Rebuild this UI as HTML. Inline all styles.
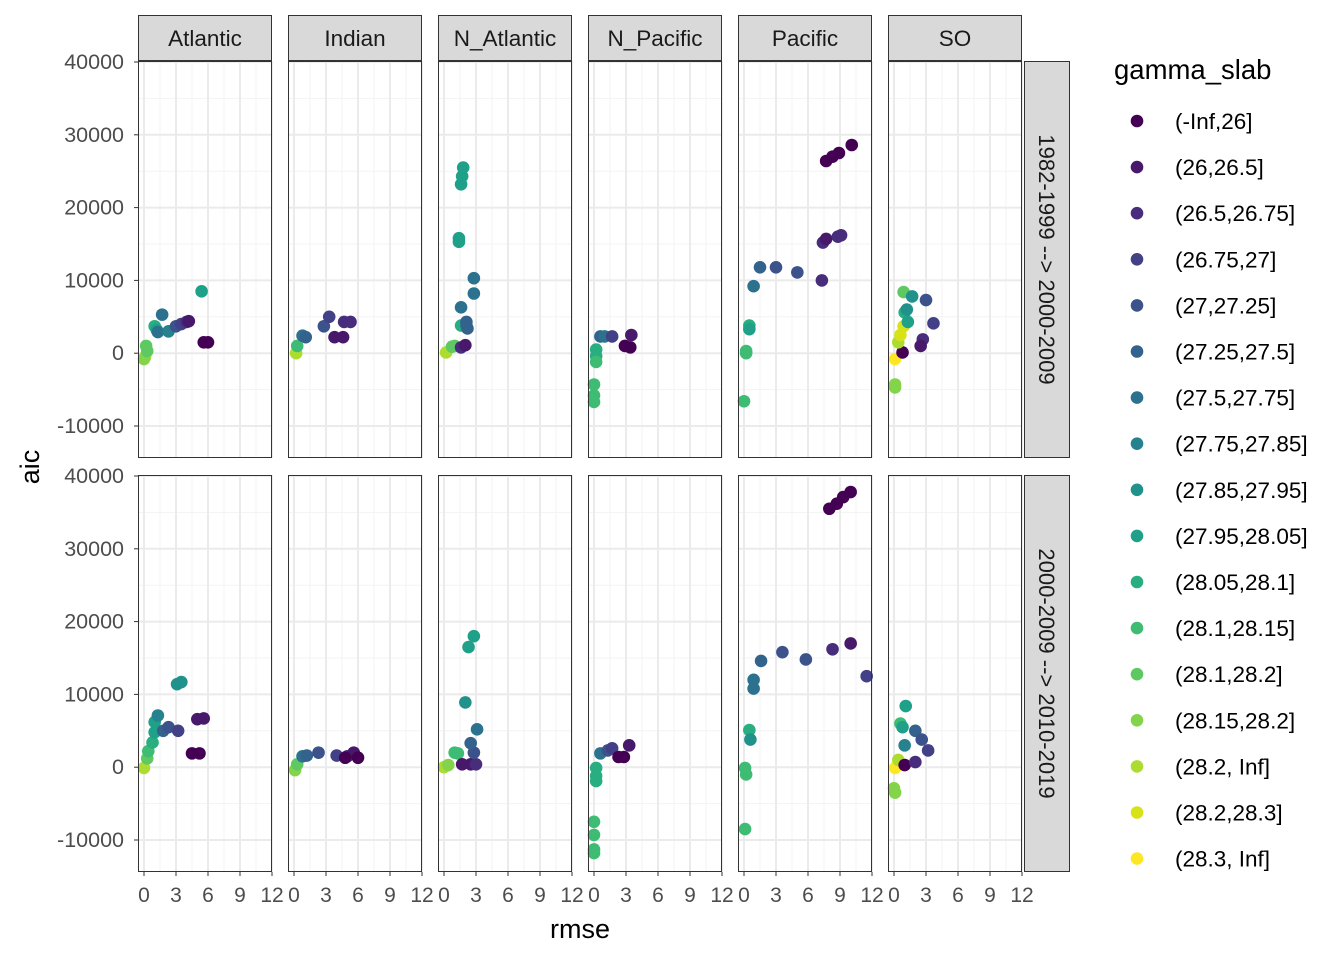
<!DOCTYPE html>
<html><head><meta charset="utf-8"><style>
body{margin:0;background:#fff;}
svg{display:block;font-family:"Liberation Sans",sans-serif;}
</style></head><body>
<svg id="chart" width="1344" height="960"></svg>
<script>
const regions=["Atlantic","Indian","N_Atlantic","N_Pacific","Pacific","SO"];
const periods=["1982-1999 --> 2000-2009","2000-2009 --> 2010-2019"];
const levels=["(-Inf,26]","(26,26.5]","(26.5,26.75]","(26.75,27]","(27,27.25]","(27.25,27.5]","(27.5,27.75]","(27.75,27.85]","(27.85,27.95]","(27.95,28.05]","(28.05,28.1]","(28.1,28.15]","(28.1,28.2]","(28.15,28.2]","(28.2, Inf]","(28.2,28.3]","(28.3, Inf]"];
const xTicks=[0,3,6,9,12];
const yTicks=[-10000,0,10000,20000,30000,40000];
// each point: [rmse, aic, levelIndex]
const top_Atlantic=[[0.2,1000,12],[0.1,-500,14],[0,-800,13],[0.3,300,12],[1.0,3700,10],[1.2,3200,9],[1.7,5300,6],[1.3,2900,6],[2.3,3000,7],[3.0,3700,4],[3.5,4000,3],[4.0,4300,2],[4.2,4400,1],[5.6,1500,0],[6.0,1500,0],[5.4,8500,9]];
const top_Indian=[[0.2,0,14],[0.3,1000,11],[0.8,2400,6],[1.1,2200,5],[2.8,3700,4],[3.3,5000,3],[3.8,2200,1],[4.6,2200,1],[4.7,4300,2],[5.3,4300,2]];
const top_NAtlantic=[[0.2,100,14],[0.75,900,12],[1.0,1000,12],[1.6,800,2],[2.0,1100,1],[1.6,3800,10],[2.1,3800,6],[2.2,3400,5],[2.1,4300,5],[1.6,6300,6],[2.8,8200,6],[2.8,10300,6],[1.4,15800,9],[1.4,15300,9],[1.6,23200,9],[1.7,24300,9],[1.8,25500,9]];
const top_NPacific=[[0.2,500,10],[0.2,-400,10],[0.2,-1200,11],[0,-4300,11],[0,-5800,11],[0,-6700,11],[0.6,2300,5],[1.0,2300,6],[1.7,2300,3],[2.9,1000,0],[3.5,2500,1],[3.4,800,0]];
const top_Pacific=[[0.2,0,11],[0.2,300,11],[0,-6600,11],[0.5,3800,10],[0.5,3300,9],[0.9,9200,6],[1.5,11800,5],[3.0,11800,4],[5.0,11100,4],[7.3,10000,2],[7.4,15200,2],[7.7,15700,1],[8.8,16000,2],[9.1,16200,2],[7.7,26400,0],[8.3,27000,0],[8.9,27500,0],[10.1,28600,0]];
const top_SO=[[0.1,-800,16],[0.1,-4300,13],[0.1,-4700,13],[0.8,100,0],[0.4,1500,14],[0.6,2500,15],[0.9,3700,15],[1.0,5600,10],[0.9,8400,12],[1.2,6000,8],[1.7,7800,8],[1.3,4300,9],[3.0,7300,4],[3.7,4100,3],[2.7,1900,2],[2.5,1000,1]];
const bot_Atlantic=[[0,-100,14],[0.3,1200,12],[0.4,2200,11],[0.8,3400,10],[1.0,4800,9],[1.0,6200,9],[1.3,7100,7],[1.8,5000,5],[2.3,5500,4],[3.2,5000,3],[3.1,11400,8],[3.5,11700,8],[4.5,1900,0],[5.2,1900,0],[5.0,6600,1],[5.6,6700,1]];
const bot_Indian=[[0.1,-400,13],[0.3,400,12],[0.8,1500,6],[1.2,1600,5],[2.3,2000,4],[4.0,1600,3],[5.0,1500,2],[5.6,2000,1],[6.0,1300,0],[4.8,1300,0]];
const bot_NAtlantic=[[0,0,14],[0.4,300,13],[1.0,2000,11],[1.3,1900,11],[1.7,400,1],[2.5,400,1],[3.0,400,2],[2.8,2000,4],[2.5,3300,5],[3.1,5200,6],[2.0,8900,8],[2.3,16500,9],[2.8,18000,9]];
const bot_NPacific=[[0.2,-100,10],[0.2,-1200,10],[0.2,-1900,10],[0,-7500,11],[0,-9300,11],[0,-11800,11],[0,-11300,11],[0.6,1900,6],[1.3,2300,4],[1.7,2600,3],[2.3,1400,0],[2.8,1400,0],[3.3,3000,1]];
const bot_Pacific=[[0.1,-100,11],[0.2,-1000,11],[0.1,-8500,11],[0.5,5100,10],[0.6,3800,8],[0.9,12000,6],[0.9,10800,6],[1.6,14600,5],[3.6,15800,4],[5.8,14800,4],[8.3,16200,2],[10.0,17000,1],[11.5,12500,3],[8.0,35500,0],[8.7,36200,0],[9.3,37100,0],[10.0,37800,0]];
const bot_SO=[[0.1,-100,16],[0,-2900,13],[0.1,-3500,13],[0.4,1000,14],[0.6,6000,11],[0.8,5500,9],[1.1,8400,9],[1.0,3000,7],[2.0,5000,5],[2.6,3800,4],[3.2,2300,3],[1.0,300,0],[2.0,700,2]];
const panelData=[[top_Atlantic,top_Indian,top_NAtlantic,top_NPacific,top_Pacific,top_SO],[bot_Atlantic,bot_Indian,bot_NAtlantic,bot_NPacific,bot_Pacific,bot_SO]];
const colors=["#440154","#48186a","#472d7b","#424086","#3b528b","#33638d","#2c728e","#26828e","#21918c","#1fa088","#28ae80","#3fbc73","#5ec962","#84d44b","#addc30","#d8e219","#fde725"];

const NS="http://www.w3.org/2000/svg";
const svg=document.getElementById('chart');
function mk(tag,attrs,parent){const e=document.createElementNS(NS,tag);for(const k in attrs)e.setAttribute(k,attrs[k]);(parent||svg).appendChild(e);return e;}
const panelLefts=[138,288,438,588,738,888], panelW=134;
const rowTops=[61,475], panelH=397;
function xs(i,v){return panelLefts[i]+6+v*(32/3);}
function ys(r,v){return rowTops[r]+1+(40000-v)*0.00728;}

for(let r=0;r<2;r++){
 for(let i=0;i<6;i++){
  const g=mk('g',{});
  
  
  const L=panelLefts[i],T=rowTops[r];
  mk('rect',{x:L,y:T,width:panelW,height:panelH,fill:'#fff'},g);
  for(let v=-1.5;v<=13.5;v+=3){const x=xs(i,v);if(x>L&&x<L+panelW)mk('line',{x1:x,x2:x,y1:T,y2:T+panelH,stroke:'#f3f3f3','stroke-width':1},g);}
  for(let v=-15000;v<=45000;v+=10000){const y=ys(r,v);if(y>T&&y<T+panelH)mk('line',{x1:L,x2:L+panelW,y1:y,y2:y,stroke:'#f3f3f3','stroke-width':1},g);}
  xTicks.forEach(v=>{const x=xs(i,v);mk('line',{x1:x,x2:x,y1:T,y2:T+panelH,stroke:'#ebebeb','stroke-width':2},g);});
  yTicks.forEach(v=>{const y=ys(r,v);mk('line',{x1:L,x2:L+panelW,y1:y,y2:y,stroke:'#ebebeb','stroke-width':2},g);});
  panelData[r][i].forEach(p=>{
   const c=mk('circle',{cx:xs(i,p[0]),cy:ys(r,p[1]),r:6.3,fill:colors[p[2]]},g);
   
   
  });
  mk('rect',{x:L+0.5,y:T+0.5,width:panelW-1,height:panelH-1,fill:'none',stroke:'#333','stroke-width':1},g);
  if(r===1){
   xTicks.forEach(v=>{const x=xs(i,v);mk('line',{x1:x,x2:x,y1:T+panelH,y2:T+panelH+4,stroke:'#333'});
    const t=mk('text',{x:x,y:902,'text-anchor':'middle','font-size':21,fill:'#4d4d4d'});t.textContent=v;
    });
  }
 }
 yTicks.forEach(v=>{const y=ys(r,v);mk('line',{x1:134,x2:138,y1:y,y2:y,stroke:'#333'});
  const t=mk('text',{x:124,y:y+7,'text-anchor':'end','font-size':21.5,fill:'#4d4d4d'});t.textContent=v;
  });
 const s=mk('rect',{x:1024.5,y:rowTops[r]+0.5,width:45,height:panelH-1,fill:'#d9d9d9',stroke:'#333'});
 
 const cy=rowTops[r]+panelH/2;
 const st=mk('text',{x:1039,y:cy,'text-anchor':'middle','font-size':22,fill:'#1a1a1a',transform:`rotate(90 1039 ${cy})`});
 st.textContent=periods[r];
}
regions.forEach((n,i)=>{
 const s=mk('rect',{x:panelLefts[i]+0.5,y:15.5,width:panelW-1,height:45,fill:'#d9d9d9',stroke:'#333'});
 
 const t=mk('text',{x:panelLefts[i]+panelW/2,y:46,'text-anchor':'middle','font-size':22.5,fill:'#1a1a1a'});
 t.textContent=n;
});
let t=mk('text',{x:580,y:938,'text-anchor':'middle','font-size':27,fill:'#000'});t.textContent='rmse';

t=mk('text',{x:39,y:467,'text-anchor':'middle','font-size':27,fill:'#000',transform:'rotate(-90 39 467)'});t.textContent='aic';

t=mk('text',{x:1114,y:79,'font-size':27.5,fill:'#000'});t.textContent='gamma_slab';

levels.forEach((l,k)=>{
 const y=121+k*46.1;
 const g=mk('g',{});
 mk('circle',{cx:1137,cy:y,r:6.3,fill:colors[k]},g);
 const tt=mk('text',{x:1175,y:y+8,'font-size':22.5,fill:'#000'},g);tt.textContent=l;
});
</script>
</body></html>
